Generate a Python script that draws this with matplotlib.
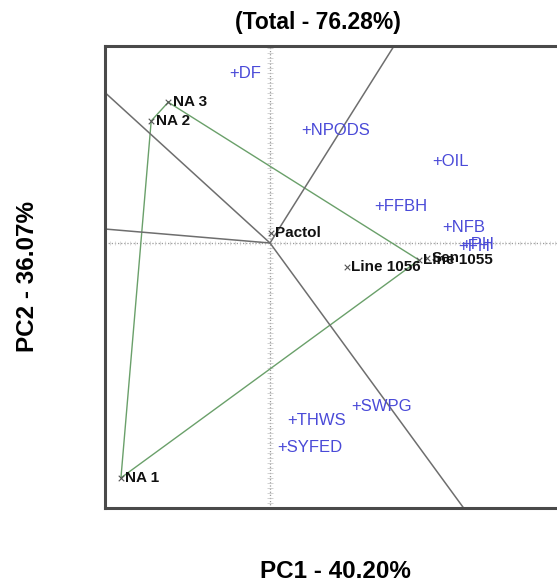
import numpy as np
import matplotlib
matplotlib.use("Agg")
import matplotlib.pyplot as plt

plt.rcParams['font.family'] = ['Liberation Sans', 'DejaVu Sans']

# Genotype scores (PC1, PC2)
gen_names = ["NA 3", "NA 2", "NA 1", "Pactol", "Line 1056", "Line 1055", "Sen"]
gen_pc1 = [-1.85, -2.16, -2.71, 0.02, 1.40, 2.71, 2.85]
gen_pc2 = [2.56, 2.22, -4.27, 0.18, -0.44, -0.31, -0.27]

# Trait / environment scores (PC1, PC2)
env_names = ["DF", "NPODS", "OIL", "FFBH", "NFB", "PH", "FH", "SWPG", "THWS", "SYFED"]
env_pc1 = [-0.64, 0.67, 3.05, 2.00, 3.24, 3.58, 3.53, 1.58, 0.42, 0.24]
env_pc2 = [3.09, 2.04, 1.49, 0.67, 0.29, -0.02, -0.07, -2.98, -3.22, -3.71]

# Convex hull (polygon) vertices by genotype name, in order
hull_order = ["NA 3", "Line 1055", "NA 1", "NA 2"]

title = "(Total - 76.28%)"
xlab = "PC1 - 40.20%"
ylab = "PC2 - 36.07%"

W, H = 557, 583
fig = plt.figure(figsize=(W / 100, H / 100), dpi=100)
left, right, top, bottom = 105, 572, 46, 508
ax = fig.add_axes([left / W, 1 - bottom / H, (right - left) / W, (bottom - top) / H])
scale = 55.0  # px per unit
x0, y0 = 270, 243
ax.set_xlim((left - x0) / scale, (right - x0) / scale)
ax.set_ylim((y0 - bottom) / scale, (y0 - top) / scale)
ax.set_xticks([]); ax.set_yticks([])
for s in ax.spines.values():
    s.set_linewidth(2.2)
    s.set_color("#4a4a4a")

# dotted axes with ruler ticks
xl = ax.get_xlim(); yl = ax.get_ylim()
ax.plot(xl, [0, 0], ls=(0, (1, 1.5)), color="#999999", lw=0.9, zorder=1)
ax.plot([0, 0], yl, ls=(0, (1, 1.5)), color="#999999", lw=0.9, zorder=1)
tk = np.arange(yl[0], yl[1], 5 / scale)
ax.plot(np.zeros_like(tk), tk, ls='none', marker='_', ms=4, mew=0.5, color="#c0c0c0", zorder=1)
tkx = np.arange(xl[0], xl[1], 5 / scale)
ax.plot(tkx, np.zeros_like(tkx), ls='none', marker='|', ms=3, mew=0.5, color="#cccccc", zorder=1)

gx = dict(zip(gen_names, gen_pc1))
gy = dict(zip(gen_names, gen_pc2))
hx = [gx[n] for n in hull_order] + [gx[hull_order[0]]]
hy = [gy[n] for n in hull_order] + [gy[hull_order[0]]]
ax.plot(hx, hy, color="#6aa06a", lw=1.0, zorder=2)

# rays perpendicular to polygon sides
for i in range(len(hull_order)):
    ax_, ay_ = hx[i], hy[i]
    bx_, by_ = hx[i + 1], hy[i + 1]
    dx, dy = bx_ - ax_, by_ - ay_
    nx, ny = dy, -dx
    if nx * ax_ + ny * ay_ < 0:
        nx, ny = -nx, -ny
    L = 50 / np.hypot(nx, ny)
    ax.plot([0, nx * L], [0, ny * L], color="#6e6e6e", lw=1.1, zorder=2)
ax.set_xlim(xl); ax.set_ylim(yl)

# genotypes
ax.scatter(gen_pc1, gen_pc2, marker='x', s=16, c="#555555", linewidths=0.8, zorder=4)
for n, x, y in zip(gen_names, gen_pc1, gen_pc2):
    ax.text(x + 0.08, y, n, fontsize=11, fontweight='bold', color="#111111",
            va='center', ha='left', zorder=5)

# environments
blue = "#4a4ad8"
for n, x, y in zip(env_names, env_pc1, env_pc2):
    ax.text(x - 0.10, y, "+" + n, fontsize=12, color=blue, va='center', ha='left',
            zorder=5)

fig.text(318 / W, 1 - 22 / H, title, fontsize=16.5, fontweight='bold', ha='center', va='center')
fig.text(335 / W, 1 - 572 / H, xlab, fontsize=17.5, fontweight='bold', ha='center', va='center')
fig.text(28 / W, 1 - 277 / H, ylab, fontsize=17.5, fontweight='bold', ha='center', va='center',
         rotation=90)

fig.savefig("out.png", dpi=100)
